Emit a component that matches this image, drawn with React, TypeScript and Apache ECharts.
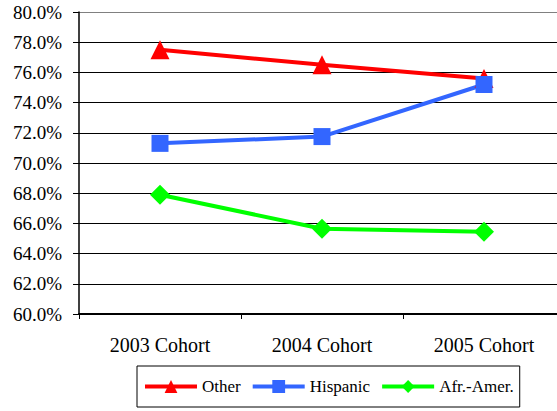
import React, { useEffect, useRef } from "react";
import * as echarts from "echarts";

const categories = ["2003 Cohort", "2004 Cohort", "2005 Cohort"];
const otherValues = [77.5, 76.5, 75.6];
const hispanicValues = [71.3, 71.75, 75.2];
const afrAmerValues = [67.9, 65.65, 65.45];
const seriesNames = ["Other", "Hispanic", "Afr.-Amer."];

const FONT = "Liberation Serif, Times New Roman, serif";

export default function App() {
  const ref = useRef<HTMLDivElement>(null);
  useEffect(() => {
    if (!ref.current) return;
    const chart = echarts.init(ref.current, undefined, { renderer: "svg" });
    const splitColors = [
      "#000", "#000", "#000", "#000", "#000", "#000", "#000", "#000", "#000", "#000", "#808080",
    ];
    chart.setOption({
      animation: false,
      backgroundColor: "#fff",
      textStyle: { fontFamily: FONT },
      grid: {
        left: 79,
        top: 12,
        width: 486,
        height: 302,
        containLabel: false,
        outerBoundsMode: "none",
      },
      xAxis: {
        type: "category",
        data: categories,
        boundaryGap: true,
        axisLine: { show: true, lineStyle: { color: "#000", width: 2 } },
        axisTick: { show: true, length: 5, lineStyle: { color: "#000", width: 1 } },
        axisLabel: { color: "#000", fontSize: 20, fontFamily: FONT, margin: 21 },
        splitLine: { show: false },
      },
      yAxis: {
        type: "value",
        min: 60,
        max: 80,
        interval: 2,
        axisLine: { show: true, lineStyle: { color: "#000", width: 1.5 } },
        axisTick: { show: true, length: 6, lineStyle: { color: "#000", width: 1 } },
        axisLabel: {
          color: "#000",
          fontSize: 19,
          fontFamily: FONT,
          margin: 17,
          formatter: (v: number) => v.toFixed(1) + "%",
        },
        splitLine: { show: true, lineStyle: { color: splitColors, width: 1 } },
      },
      legend: {
        left: 137,
        top: 366,
        orient: "horizontal",
        itemWidth: 52,
        itemHeight: 16,
        itemGap: 10,
        padding: [12, 6, 12, 6],
        borderColor: "#000",
        borderWidth: 1,
        backgroundColor: "#fff",
        lineStyle: { width: 4 },
        textStyle: { color: "#000", fontSize: 17, fontFamily: FONT },
        data: seriesNames,
      },
      series: [
        {
          name: seriesNames[0],
          type: "line",
          data: otherValues,
          symbol: "triangle",
          symbolSize: 19,
          lineStyle: { color: "#FF0000", width: 4 },
          itemStyle: { color: "#FF0000" },
        },
        {
          name: seriesNames[1],
          type: "line",
          data: hispanicValues,
          symbol: "rect",
          symbolSize: 17,
          lineStyle: { color: "#3366FF", width: 4 },
          itemStyle: { color: "#3366FF" },
        },
        {
          name: seriesNames[2],
          type: "line",
          data: afrAmerValues,
          symbol: "diamond",
          symbolSize: 20,
          lineStyle: { color: "#00FF00", width: 4 },
          itemStyle: { color: "#00FF00" },
        },
      ],
    });
    return () => chart.dispose();
  }, []);
  return (
    <div
      ref={ref}
      style={{ position: "absolute", left: 0, top: 0, width: 557, height: 411 }}
    />
  );
}
